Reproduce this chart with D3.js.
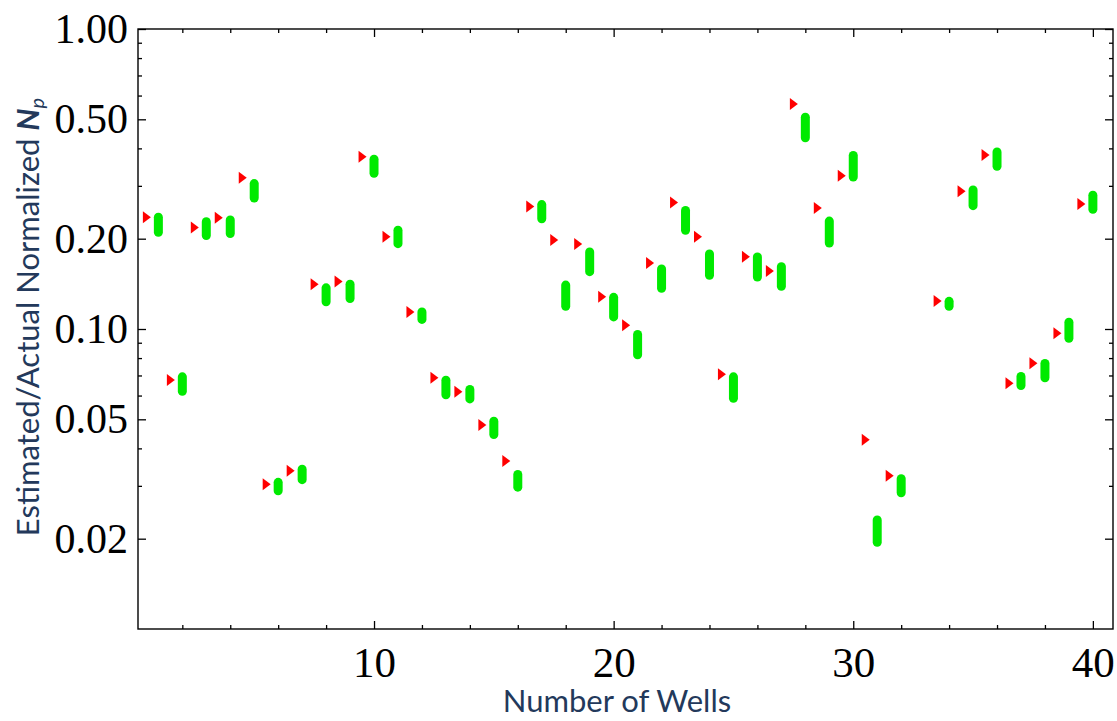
<!DOCTYPE html>
<html>
<head>
<meta charset="utf-8">
<script src="https://cdn.jsdelivr.net/npm/d3@7"></script>
<style>
  body { margin: 0; background: #fff; }
  svg { display: block; }
  .tick text { font-family: "Liberation Serif", "Times New Roman", serif; fill: #000; }
  .axis-title { font-family: Lato, "Open Sans", sans-serif; fill: #23395b; }
</style>
</head>
<body>
<svg id="chart" width="1117" height="721"></svg>
<script>
// wells (well 33 has no values)
const wells = [1, 2, 3, 4, 5, 6, 7, 8, 9, 10,
               11, 12, 13, 14, 15, 16, 17, 18, 19, 20,
               21, 22, 23, 24, 25, 26, 27, 28, 29, 30,
               31, 32, 34, 35, 36, 37, 38, 39, 40];

// red markers
const estimated = [0.236, 0.0676, 0.218, 0.235, 0.319, 0.0304, 0.0337, 0.141, 0.144, 0.375,
                   0.203, 0.114, 0.0688, 0.0618, 0.0479, 0.0363, 0.256, 0.198, 0.192, 0.128,
                   0.103, 0.166, 0.264, 0.203, 0.0706, 0.174, 0.156, 0.562, 0.253, 0.324,
                   0.0427, 0.0324, 0.124, 0.288, 0.380, 0.0659, 0.0769, 0.0968, 0.261];

// green bars, upper and lower ends
const actualHigh = [0.244, 0.0717, 0.236, 0.239, 0.316, 0.0319, 0.0353, 0.142, 0.146, 0.381,
                    0.221, 0.118, 0.0699, 0.0651, 0.0510, 0.0339, 0.269, 0.145, 0.187, 0.132,
                    0.0992, 0.164, 0.257, 0.184, 0.0717, 0.180, 0.167, 0.526, 0.237, 0.392,
                    0.0239, 0.0328, 0.128, 0.301, 0.403, 0.0719, 0.0794, 0.109, 0.289];
const actualLow = [0.203, 0.0599, 0.198, 0.201, 0.264, 0.0279, 0.0304, 0.119, 0.122, 0.319,
                   0.186, 0.104, 0.0583, 0.0565, 0.0430, 0.0287, 0.225, 0.115, 0.150, 0.106,
                   0.0793, 0.132, 0.206, 0.146, 0.0568, 0.144, 0.134, 0.419, 0.187, 0.310,
                   0.0188, 0.0275, 0.115, 0.249, 0.337, 0.0626, 0.0664, 0.0900, 0.242];

const xMajor = [10, 20, 30, 40];
const xMinor = [2, 4, 6, 8, 12, 14, 16, 18, 22, 24, 26, 28, 32, 34, 36, 38];
const yMajor = [1, 0.5, 0.2, 0.1, 0.05, 0.02];
const yMinor = [0.9, 0.8, 0.7, 0.6, 0.4, 0.3, 0.09, 0.08, 0.07, 0.06, 0.04, 0.03];

const svg = d3.select("#chart");

const plotLeft = 138, plotRight = 1113, plotTop = 29, plotBottom = 629;

const x = d3.scaleLinear().domain([0.15, 40.84]).range([plotLeft, plotRight]);
const y = d3.scaleLog().domain([0.01, 1]).range([plotBottom, plotTop]);

const fmt = d3.format(".2f");

// axes, ticks pointing inward
function addAxis(axis, transform, showLabels) {
	const g = svg.append("g").attr("transform", transform).call(axis);
	g.select(".domain").remove();
	g.selectAll(".tick line").attr("stroke", "#000").attr("stroke-width", 1.3);
	if (!showLabels) g.selectAll(".tick text").remove();
	return g;
}

addAxis(d3.axisBottom(x).tickValues(xMajor).tickSize(-8).tickSizeOuter(0).tickPadding(17).tickFormat(d3.format("d")),
        "translate(0," + plotBottom + ")", true)
	.selectAll(".tick text").attr("font-size", 43);
addAxis(d3.axisBottom(x).tickValues(xMinor).tickSize(-4).tickSizeOuter(0), "translate(0," + plotBottom + ")", false);
addAxis(d3.axisTop(x).tickValues(xMajor).tickSize(-8).tickSizeOuter(0), "translate(0," + plotTop + ")", false);
addAxis(d3.axisTop(x).tickValues(xMinor).tickSize(-4).tickSizeOuter(0), "translate(0," + plotTop + ")", false);

addAxis(d3.axisLeft(y).tickValues(yMajor).tickSize(-8).tickSizeOuter(0).tickPadding(10).tickFormat(fmt),
        "translate(" + plotLeft + ",0)", true)
	.selectAll(".tick text").attr("font-size", 42);
addAxis(d3.axisLeft(y).tickValues(yMinor).tickSize(-4).tickSizeOuter(0), "translate(" + plotLeft + ",0)", false);
addAxis(d3.axisRight(y).tickValues(yMajor).tickSize(-8).tickSizeOuter(0), "translate(" + plotRight + ",0)", false);
addAxis(d3.axisRight(y).tickValues(yMinor).tickSize(-4).tickSizeOuter(0), "translate(" + plotRight + ",0)", false);

// frame
svg.append("rect")
	.attr("x", plotLeft).attr("y", plotTop)
	.attr("width", plotRight - plotLeft).attr("height", plotBottom - plotTop)
	.attr("fill", "none").attr("stroke", "#000").attr("stroke-width", 1.4);

const data = wells.map((w, i) => ({
	well: w, est: estimated[i], hi: actualHigh[i], lo: actualLow[i]
}));

// green bars
const barW = 9;
svg.append("g").selectAll("rect")
	.data(data)
	.join("rect")
	.attr("x", d => x(d.well) - barW / 2)
	.attr("y", d => y(d.hi))
	.attr("width", barW)
	.attr("height", d => y(d.lo) - y(d.hi))
	.attr("rx", barW / 2)
	.attr("fill", "#00ea00");

// red triangles, half a well to the left
svg.append("g").selectAll("path")
	.data(data)
	.join("path")
	.attr("transform", d => "translate(" + x(d.well - 0.5) + "," + y(d.est) + ")")
	.attr("d", "M-3.5,-6L4.5,0L-3.5,6Z")
	.attr("fill", "#ff0000");

// axis titles
svg.append("text")
	.attr("class", "axis-title")
	.attr("x", 617).attr("y", 712)
	.attr("text-anchor", "middle")
	.attr("font-size", 31)
	.text("Number of Wells");

const yt = svg.append("text")
	.attr("class", "axis-title")
	.attr("transform", "translate(39,317) rotate(-90)")
	.attr("text-anchor", "middle")
	.attr("font-size", 31);
yt.append("tspan").text("Estimated/Actual Normalized ");
yt.append("tspan").attr("font-style", "italic").attr("font-weight", "bold").text("N");
yt.append("tspan").attr("font-style", "italic").attr("font-size", 20).attr("dy", 5).text("p");
</script>
</body>
</html>
